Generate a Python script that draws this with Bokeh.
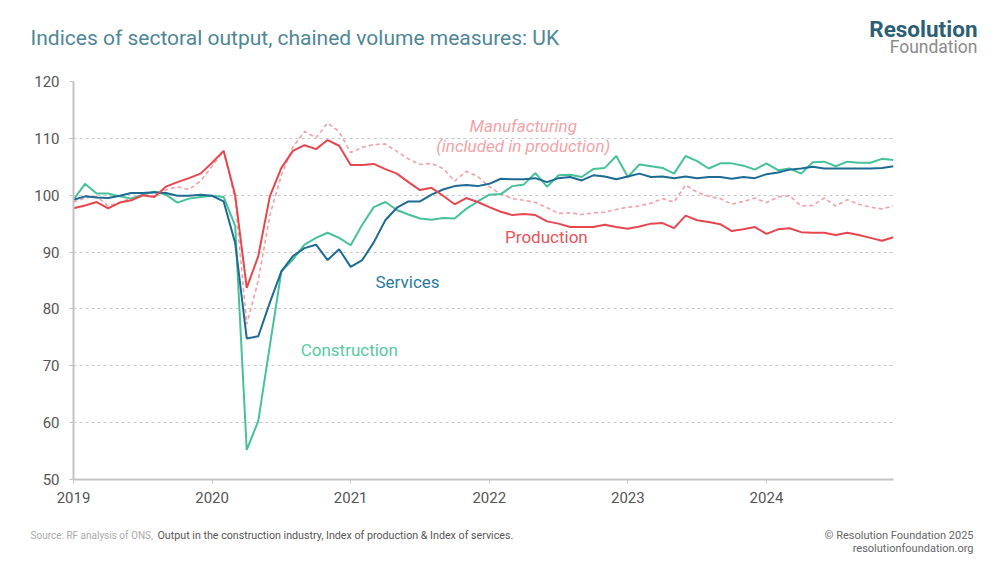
from bokeh.plotting import figure
from bokeh.models import Label, FixedTicker, Range1d
from bokeh.layouts import column
from bokeh.core.properties import value
from bokeh.embed import file_html
from bokeh.resources import INLINE

# Monthly data, Jan 2019 - Dec 2024
start_year = 2019
n_months = 72

production = [97.7, 98.2, 98.8, 97.7, 98.7, 99.1, 100.0, 99.7, 101.5, 102.3, 103.0, 103.8,
              105.7, 107.8, 100.0, 83.7, 89.3, 99.8, 104.8, 107.8, 108.8, 108.1, 109.7, 108.7,
              105.3, 105.3, 105.5, 104.6, 103.8, 102.3, 100.9, 101.3, 99.9, 98.4, 99.5, 98.8,
              97.9, 97.1, 96.5, 96.7, 96.5, 95.4, 95.0, 94.4, 94.4, 94.4, 94.8, 94.4,
              94.1, 94.5, 95.0, 95.1, 94.2, 96.4, 95.6, 95.3, 94.9, 93.7, 94.0, 94.4,
              93.2, 94.0, 94.2, 93.5, 93.4, 93.4, 93.0, 93.4, 93.0, 92.5, 92.0, 92.6]

manufacturing = [98.8, 99.5, 99.8, 98.1, 98.7, 99.5, 100.0, 99.9, 100.9, 101.5, 101.0, 102.5,
                 105.1, 107.8, 99.2, 77.3, 85.0, 96.5, 103.5, 108.5, 111.2, 110.1, 112.7, 111.2,
                 107.5, 108.4, 108.9, 109.0, 107.7, 106.4, 105.4, 105.6, 104.7, 102.5, 104.2, 103.3,
                 101.5, 100.2, 99.4, 99.1, 98.7, 97.8, 96.8, 96.9, 96.6, 96.9, 97.0, 97.5,
                 97.9, 98.1, 98.6, 99.4, 98.8, 101.8, 100.5, 99.8, 99.4, 98.4, 98.9, 99.5,
                 98.7, 99.7, 99.9, 98.1, 98.2, 99.5, 98.1, 99.2, 98.4, 97.9, 97.6, 98.1]

services = [99.2, 99.8, 99.6, 99.5, 99.9, 100.4, 100.4, 100.5, 100.4, 99.9, 99.9, 100.1,
            99.9, 98.9, 91.6, 74.8, 75.2, 81.1, 86.6, 89.3, 90.7, 91.3, 88.6, 90.5,
            87.4, 88.6, 91.7, 95.6, 97.8, 98.9, 98.9, 100.1, 101.0, 101.6, 101.8, 101.6,
            102.0, 102.9, 102.8, 102.8, 103.0, 102.3, 103.0, 103.2, 102.6, 103.5, 103.3, 102.8,
            103.3, 103.8, 103.2, 103.3, 103.0, 103.3, 103.0, 103.2, 103.2, 102.9, 103.2, 103.0,
            103.7, 104.0, 104.5, 104.7, 105.0, 104.7, 104.7, 104.7, 104.7, 104.7, 104.8, 105.1]

construction = [99.2, 102.0, 100.3, 100.3, 99.8, 99.4, 100.1, 100.6, 100.1, 98.7, 99.4, 99.7,
                99.9, 99.7, 94.6, 55.2, 60.3, 73.5, 86.6, 88.7, 91.3, 92.5, 93.4, 92.5,
                91.2, 94.8, 97.9, 98.8, 97.4, 96.6, 95.9, 95.7, 96.0, 95.9, 97.6, 98.9,
                100.1, 100.2, 101.6, 101.9, 103.9, 101.5, 103.5, 103.6, 103.2, 104.6, 104.8, 106.9,
                103.2, 105.4, 105.1, 104.8, 103.8, 106.9, 106.0, 104.7, 105.6, 105.6, 105.2, 104.5,
                105.6, 104.4, 104.7, 103.8, 105.8, 105.9, 105.1, 105.9, 105.7, 105.7, 106.4, 106.2]

year_ticks = [2019, 2020, 2021, 2022, 2023, 2024]
y_ticks = [50, 60, 70, 80, 90, 100, 110, 120]

title_text = "Indices of sectoral output, chained volume measures: UK"
source_grey = "Source: RF analysis of ONS,"
source_dark = "Output in the construction industry, Index of production & Index of services."
copyright_lines = ["\u00a9 Resolution Foundation 2025", "resolutionfoundation.org"]

x = [start_year + m / 12 for m in range(n_months)]

FONT = "Roboto"
C_PROD = "#e6474e"
C_MANU = "#f2a0a3"
C_SERV = "#1d6a92"
C_CONS = "#46c29a"
W = 984


def no_align(f):
    if "frame_align" in f.properties():
        f.frame_align = False


def text_panel(h):
    f = figure(width=W, height=h, output_backend="svg", toolbar_location=None,
               x_range=Range1d(0, W), y_range=Range1d(h, 0),
               x_axis_type=None, y_axis_type=None, min_border=0)
    f.outline_line_color = None
    f.grid.visible = False
    no_align(f)
    return f


def ptext(f, xv, yv, s, color, size, align="left", style="normal"):
    f.text(x=[xv], y=[yv], text=[s], text_color=color, text_font_size=size,
           text_align=align, text_baseline="middle", text_font_style=style,
           text_font=value(FONT))


# ---- header ----
HEAD_H = 60
head = text_panel(HEAD_H)
ptext(head, 30, 37, title_text, "#4f8795", "21px")
ptext(head, 977, 28.5, "Resolution", "#2c5f75", "22.5px", "right", "bold")
ptext(head, 977, 46.5, "Foundation", "#8a8a8a", "17.5px", "right")

# ---- main chart ----
p = figure(width=W, height=455, output_backend="svg", toolbar_location=None,
           x_range=Range1d(2019, x[-1]), y_range=Range1d(50, 120),
           min_border_left=73, min_border_right=91, min_border_top=21, min_border_bottom=36)
p.outline_line_color = None
no_align(p)

p.xaxis.ticker = FixedTicker(ticks=year_ticks)
p.yaxis.ticker = FixedTicker(ticks=y_ticks)
p.xaxis.formatter.use_scientific = False
for ax in (p.xaxis, p.yaxis):
    ax.axis_line_color = "#c4c4c4"
    ax.axis_line_width = 2
    ax.major_tick_line_color = "#c4c4c4"
    ax.major_tick_in = 0
    ax.major_tick_out = 4
    ax.minor_tick_line_color = None
    ax.major_label_text_font = FONT
    ax.major_label_text_font_size = "15px"
    ax.major_label_text_color = "#555555"
p.yaxis.major_label_standoff = 10
p.xaxis.major_label_standoff = 8

p.xgrid.grid_line_color = None
p.ygrid.grid_line_color = "#c8c8c8"
p.ygrid.grid_line_dash = "3 3"
p.ygrid.grid_line_width = 1

p.line(x, manufacturing, line_color=C_MANU, line_width=1.6, line_dash="4 3")
p.line(x, construction, line_color=C_CONS, line_width=2)
p.line(x, services, line_color=C_SERV, line_width=2)
p.line(x, production, line_color=C_PROD, line_width=2)


def lab(xv, yv, s, color, size, align="left", style="normal"):
    p.add_layout(Label(x=xv, y=yv, text=s, text_color=color, text_font_size=size,
                       text_align=align, text_baseline="middle", text_font_style=style,
                       text_font=FONT))


lab(2022.245, 112.1, "Manufacturing", "#f2a3a6", "17px", "center", "italic")
lab(2022.245, 108.6, "(included in production)", "#f2a3a6", "17px", "center", "italic")
lab(2022.114, 92.7, "Production", "#e4545a", "17px")
lab(2021.179, 84.8, "Services", "#2a7aa0", "17px")
lab(2020.639, 72.7, "Construction", "#58c9a0", "17px")

# ---- footer ----
FOOT_H = 41
foot = text_panel(FOOT_H)
ptext(foot, 30, 20, source_grey, "#aaaaaa", "10px")
ptext(foot, 157, 20, source_dark, "#555555", "10.7px")
ptext(foot, 973, 20, copyright_lines[0], "#666666", "11px", "right")
ptext(foot, 973, 33, copyright_lines[1], "#666666", "11px", "right")

layout = column(head, p, foot, spacing=0)
open("out.html", "w").write(file_html(layout, INLINE))
